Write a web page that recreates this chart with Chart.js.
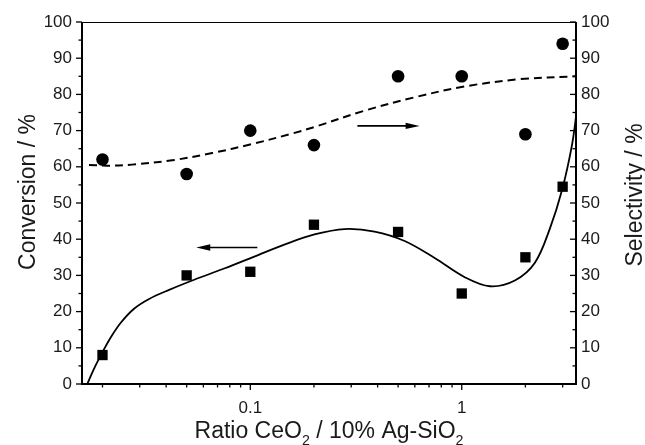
<!DOCTYPE html>
<html>
<head>
<meta charset="utf-8">
<script src="https://cdn.jsdelivr.net/npm/chart.js@4"></script>
<style>
    html, body { margin: 0; padding: 0; background: #fff; }
    #grafico { display: block; }
</style>
</head>
<body>
<canvas id="grafico" width="645" height="445"></canvas>
<script>
// razão CeO2 / 10% Ag-SiO2 das amostras
const razoes = [0.02, 0.05, 0.1, 0.2, 0.5, 1, 2, 3];
const conversao = [8, 30, 31, 44, 42, 25, 35, 54.5];
const seletividade = [62, 58, 70, 66, 85, 85, 69, 94];

// curvas de ajuste (lidas ponto a ponto)
const ajusteConvX = [0.01694, 0.01823, 0.0200, 0.02194, 0.02446, 0.0282, 0.03322, 0.04131, 0.05429, 0.07528, 0.10446, 0.1449, 0.201, 0.2789, 0.3869, 0.537, 0.7447, 1.0333, 1.358, 1.783, 2.218, 2.613, 2.978, 3.321, 3.508];
const ajusteConvY = [0, 4.2, 8.8, 13, 17, 20.8, 23.5, 26, 28.8, 31.9, 35.2, 38.5, 41.3, 42.8, 42.1, 39.5, 34.8, 29.5, 27, 28.6, 33.5, 43, 53.5, 66, 76];
const ajusteSelX = [0.01726, 0.02147, 0.02759, 0.04269, 0.06604, 0.10221, 0.1581, 0.2011, 0.3469, 0.5989, 1.0333, 1.8831, 3.47];
const ajusteSelY = [60.5, 60.3, 60.6, 61.8, 63.8, 66.3, 69.2, 71, 75.5, 79.2, 82.2, 84.2, 85];

// setas indicando o eixo de cada série: [x cauda, x ponta], altura
const setaConvX = [0.108, 0.0555];
const setaConvY = 37.7;
const setaSelX = [0.321, 0.632];
const setaSelY = 71.3;

// marcas dos eixos
const ticksX = [0.02, 0.03, 0.04, 0.05, 0.06, 0.07, 0.08, 0.09, 0.1, 0.2, 0.3, 0.4, 0.5, 0.6, 0.7, 0.8, 0.9, 1, 2, 3];
const rotulosX = [0.1, 1];
const ticksY = [0, 5, 10, 15, 20, 25, 30, 35, 40, 45, 50, 55, 60, 65, 70, 75, 80, 85, 90, 95, 100];
const rotulosY = [0, 10, 20, 30, 40, 50, 60, 70, 80, 90, 100];

const fonte = '"Liberation Sans", Arial, sans-serif';
const corTexto = '#1a1a1a';

function pares(xs, ys) {
    return xs.map((x, i) => ({ x: x, y: ys[i] }));
}

// escreve um texto com trechos subscritos, a partir de x (alinhado à esquerda)
function textoComSubscrito(ctx, partes, x, y, tam) {
    let cx = x;
    partes.forEach(p => {
        ctx.font = (p.sub ? tam * 0.62 : tam) + 'px ' + fonte;
        ctx.fillText(p.t, cx, p.sub ? y + tam * 0.3 : y);
        cx += ctx.measureText(p.t).width;
    });
    return cx - x;
}

function larguraSubscrito(ctx, partes, tam) {
    let w = 0;
    partes.forEach(p => {
        ctx.font = (p.sub ? tam * 0.62 : tam) + 'px ' + fonte;
        w += ctx.measureText(p.t).width;
    });
    return w;
}

function seta(ctx, x0, x1, y) {
    const dir = Math.sign(x1 - x0);
    ctx.lineWidth = 1.6;
    ctx.beginPath();
    ctx.moveTo(x0, y);
    ctx.lineTo(x1 - dir * 10, y);
    ctx.stroke();
    ctx.beginPath();
    ctx.moveTo(x1, y);
    ctx.lineTo(x1 - dir * 14, y - 3.2);
    ctx.lineTo(x1 - dir * 14, y + 3.2);
    ctx.closePath();
    ctx.fill();
}

const eixosPlugin = {
    id: 'eixos',
    afterDatasetsDraw(chart) {
        const { ctx, chartArea: a, scales } = chart;
        const sx = scales.x, sy = scales.y, sy2 = scales.y2;
        ctx.save();
        ctx.strokeStyle = '#000';
        ctx.fillStyle = '#000';

        // moldura
        ctx.lineWidth = 1;
        ctx.beginPath();
        ctx.moveTo(a.left, a.top + 0.5);
        ctx.lineTo(a.right, a.top + 0.5);
        ctx.stroke();
        ctx.lineWidth = 2;
        ctx.beginPath();
        ctx.moveTo(a.left, a.top);
        ctx.lineTo(a.left, a.bottom);
        ctx.lineTo(a.right, a.bottom);
        ctx.lineTo(a.right, a.top);
        ctx.stroke();

        // marcas do eixo x (para fora)
        ctx.lineWidth = 1.3;
        ticksX.forEach(v => {
            const px = sx.getPixelForValue(v);
            const len = rotulosX.includes(v) ? 6 : 3.5;
            ctx.beginPath();
            ctx.moveTo(px, a.bottom);
            ctx.lineTo(px, a.bottom + len);
            ctx.stroke();
        });

        // esquerda para fora, direita para dentro
        ticksY.forEach(v => {
            const len = rotulosY.includes(v) ? 6 : 3.5;
            const py = sy.getPixelForValue(v);
            ctx.beginPath();
            ctx.moveTo(a.left, py);
            ctx.lineTo(a.left - len, py);
            ctx.stroke();
            const py2 = sy2.getPixelForValue(v);
            ctx.beginPath();
            ctx.moveTo(a.right, py2);
            ctx.lineTo(a.right - len, py2);
            ctx.stroke();
        });

        // setas
        seta(ctx, sx.getPixelForValue(setaConvX[0]), sx.getPixelForValue(setaConvX[1]), sy.getPixelForValue(setaConvY));
        seta(ctx, sx.getPixelForValue(setaSelX[0]), sx.getPixelForValue(setaSelX[1]), sy2.getPixelForValue(setaSelY));

        // títulos dos eixos
        const tam = 23;
        ctx.fillStyle = corTexto;
        ctx.textBaseline = 'alphabetic';
        ctx.textAlign = 'left';
        const tituloX = [
            { t: 'Ratio CeO' }, { t: '2', sub: true },
            { t: ' / 10% Ag-SiO' }, { t: '2', sub: true }
        ];
        const wx = larguraSubscrito(ctx, tituloX, tam);
        textoComSubscrito(ctx, tituloX, (a.left + a.right) / 2 - wx / 2, 438, tam);

        ctx.font = tam + 'px ' + fonte;
        ctx.textAlign = 'center';
        ctx.save();
        ctx.translate(35, 192);
        ctx.rotate(-Math.PI / 2);
        ctx.fillText('Conversion / %', 0, 0);
        ctx.restore();

        ctx.save();
        ctx.translate(642, 195);
        ctx.rotate(-Math.PI / 2);
        ctx.fillText('Selectivity / %', 0, 0);
        ctx.restore();

        ctx.restore();
    }
};

const ctx = document.getElementById('grafico').getContext('2d');
const grafico = new Chart(ctx, {
    type: 'scatter',
    data: {
        datasets: [
            {
                label: 'Conversion',
                data: pares(razoes, conversao),
                yAxisID: 'y',
                pointStyle: 'rect',
                pointRadius: 7.3,
                backgroundColor: '#000',
                borderWidth: 0,
                showLine: false
            },
            {
                label: 'Selectivity',
                data: pares(razoes, seletividade),
                yAxisID: 'y2',
                pointStyle: 'circle',
                pointRadius: 6.3,
                backgroundColor: '#000',
                borderWidth: 0,
                showLine: false
            },
            {
                label: 'Ajuste conversão',
                data: pares(ajusteConvX, ajusteConvY),
                yAxisID: 'y',
                showLine: true,
                pointRadius: 0,
                borderColor: '#000',
                borderWidth: 1.8,
                tension: 0.35
            },
            {
                label: 'Ajuste seletividade',
                data: pares(ajusteSelX, ajusteSelY),
                yAxisID: 'y2',
                showLine: true,
                pointRadius: 0,
                borderColor: '#000',
                borderWidth: 2,
                borderDash: [8, 5],
                tension: 0.35
            }
        ]
    },
    options: {
        responsive: false,
        animation: false,
        devicePixelRatio: 1,
        layout: { padding: { top: 22, left: 0, right: 0, bottom: 0 } },
        plugins: {
            legend: { display: false },
            tooltip: { enabled: false }
        },
        scales: {
            x: {
                type: 'logarithmic',
                position: 'bottom',
                min: 0.016,
                max: 3.47,
                afterBuildTicks: (scale) => {
                    scale.ticks = ticksX.map(v => ({ value: v }));
                },
                afterFit: (scale) => { scale.height = 61; },
                grid: { display: true, drawOnChartArea: false, drawTicks: false, color: 'rgba(0,0,0,0)' },
                border: { display: false },
                ticks: {
                    autoSkip: false,
                    maxRotation: 0,
                    padding: 14,
                    color: corTexto,
                    font: { family: fonte, size: 17 },
                    callback: (v) => rotulosX.includes(v) ? String(v) : ''
                }
            },
            y: {
                position: 'left',
                min: 0,
                max: 100,
                afterBuildTicks: (scale) => {
                    scale.ticks = ticksY.map(v => ({ value: v }));
                },
                afterFit: (scale) => { scale.width = 82; },
                grid: { display: true, drawOnChartArea: false, drawTicks: false, color: 'rgba(0,0,0,0)' },
                border: { display: false },
                ticks: {
                    autoSkip: false,
                    padding: 10,
                    color: corTexto,
                    font: { family: fonte, size: 17 },
                    callback: (v) => rotulosY.includes(v) ? String(v) : ''
                }
            },
            y2: {
                position: 'right',
                min: 0,
                max: 100,
                afterBuildTicks: (scale) => {
                    scale.ticks = ticksY.map(v => ({ value: v }));
                },
                afterFit: (scale) => { scale.width = 69; },
                grid: { display: true, drawOnChartArea: false, drawTicks: false, color: 'rgba(0,0,0,0)' },
                border: { display: false },
                ticks: {
                    autoSkip: false,
                    padding: 5,
                    color: corTexto,
                    font: { family: fonte, size: 17 },
                    callback: (v) => rotulosY.includes(v) ? String(v) : ''
                }
            }
        }
    },
    plugins: [eixosPlugin]
});
</script>
</body>
</html>
